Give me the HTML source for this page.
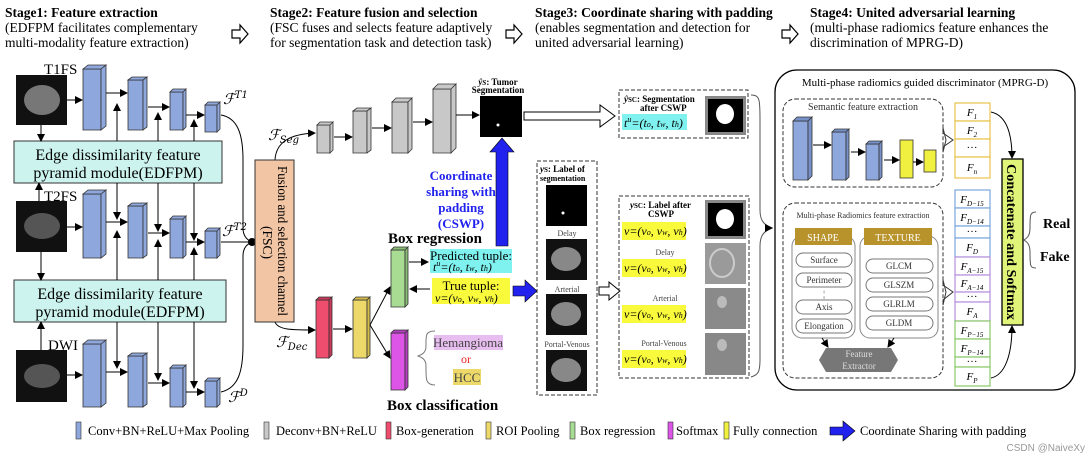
<!DOCTYPE html>
<html><head><meta charset="utf-8"><style>
html,body{margin:0;padding:0;background:#fff}
svg{display:block;font-family:"Liberation Serif",serif}
.b{font-weight:bold}
</style></head><body>
<svg width="1090" height="460" viewBox="0 0 1090 460" xmlns="http://www.w3.org/2000/svg">
<defs>
<marker id="ar" markerWidth="8" markerHeight="8" refX="7" refY="4" orient="auto"><path d="M0,0 L8,4 L0,8 z" fill="#000"/></marker>
<g id="hol"><path d="M0,-4 H8 V-9 L16,0 L8,9 V4 H0 z" fill="#fff" stroke="#000" stroke-width="1.2"/></g>
</defs>
<g font-size="13.5">
<text x="5" y="17" class="b">Stage1: Feature extraction</text>
<text x="5" y="32">(EDFPM  facilitates  complementary</text>
<text x="5" y="47">multi-modality feature extraction)</text>
<text x="270" y="17" class="b">Stage2: Feature fusion and selection</text>
<text x="270" y="32">(FSC fuses and selects feature adaptively</text>
<text x="270" y="47">for segmentation task and detection task)</text>
<text x="535" y="17" class="b">Stage3: Coordinate sharing with padding</text>
<text x="535" y="32">(enables  segmentation  and  detection  for</text>
<text x="535" y="47">united adversarial learning)</text>
<text x="810" y="17" class="b">Stage4: United adversarial learning</text>
<text x="810" y="32">(multi-phase radiomics feature enhances the</text>
<text x="810" y="47">discrimination of MPRG-D)</text>
</g>
<use href="#hol" x="232" y="34"/><use href="#hol" x="506" y="34"/><use href="#hol" x="782" y="34"/>

<rect x="16" y="75" width="51" height="50" fill="#111"/><ellipse cx="42" cy="100" rx="18" ry="15" fill="#777"/>
<rect x="16" y="201" width="51" height="51" fill="#111"/><ellipse cx="42" cy="226" rx="18" ry="13" fill="#555"/>
<rect x="16" y="350" width="51" height="52" fill="#111"/><ellipse cx="42" cy="376" rx="18" ry="12" fill="#555"/>
<text x="44" y="74" font-size="15">T1FS</text>
<text x="44" y="201" font-size="15">T2FS</text>
<text x="48" y="350" font-size="15">DWI</text>

<rect x="14" y="141" width="208" height="42" fill="#cdf3ee" stroke="#333"/>
<text x="118" y="160" font-size="16" text-anchor="middle">Edge dissimilarity feature</text>
<text x="118" y="178" font-size="16" text-anchor="middle">pyramid module(EDFPM)</text>
<rect x="14" y="280" width="212" height="42" fill="#cdf3ee" stroke="#333"/>
<text x="120" y="299" font-size="16" text-anchor="middle">Edge dissimilarity feature</text>
<text x="120" y="317" font-size="16" text-anchor="middle">pyramid module(EDFPM)</text>

<g stroke="#000" fill="none" stroke-width="1">
<line x1="41" y1="125" x2="41" y2="141" marker-end="url(#ar)"/>
<line x1="39" y1="201" x2="39" y2="183" marker-end="url(#ar)"/>
<line x1="41" y1="252" x2="41" y2="280" marker-end="url(#ar)"/>
<line x1="41" y1="350" x2="41" y2="322" marker-end="url(#ar)"/>
</g>

<g fill="#8ea7dc" stroke="#333" stroke-width="0.8">
<path d="M83,69 h18 v61 h-18z"/><path d="M83,69 l5,-4 h18 l-5,4z M101,69 l5,-4 v61 l-5,4z"/>
<path d="M128,80 h15 v50 h-15z"/><path d="M128,80 l4,-3 h15 l-4,3z M143,80 l4,-3 v50 l-4,3z"/>
<path d="M170,92 h13 v38 h-13z"/><path d="M170,92 l3,-3 h13 l-3,3z M183,92 l3,-3 v38 l-3,3z"/>
<path d="M205,105 h12 v27 h-12z"/><path d="M205,105 l3,-3 h12 l-3,3z M217,105 l3,-3 v27 l-3,3z"/>
<path d="M83,194 h18 v64 h-18z"/><path d="M83,194 l5,-4 h18 l-5,4z M101,194 l5,-4 v64 l-5,4z"/>
<path d="M128,206 h15 v52 h-15z"/><path d="M128,206 l4,-3 h15 l-4,3z M143,206 l4,-3 v52 l-4,3z"/>
<path d="M170,219 h13 v39 h-13z"/><path d="M170,219 l3,-3 h13 l-3,3z M183,219 l3,-3 v39 l-3,3z"/>
<path d="M205,231 h12 v27 h-12z"/><path d="M205,231 l3,-3 h12 l-3,3z M217,231 l3,-3 v27 l-3,3z"/>
<path d="M83,344 h18 v63 h-18z"/><path d="M83,344 l5,-4 h18 l-5,4z M101,344 l5,-4 v63 l-5,4z"/>
<path d="M128,356 h15 v51 h-15z"/><path d="M128,356 l4,-3 h15 l-4,3z M143,356 l4,-3 v51 l-4,3z"/>
<path d="M170,368 h13 v39 h-13z"/><path d="M170,368 l3,-3 h13 l-3,3z M183,368 l3,-3 v39 l-3,3z"/>
<path d="M205,381 h12 v26 h-12z"/><path d="M205,381 l3,-3 h12 l-3,3z M217,381 l3,-3 v26 l-3,3z"/>
</g>
<g stroke="#000" fill="none" stroke-width="1">
<line x1="67" y1="100" x2="82" y2="100" marker-end="url(#ar)"/>
<line x1="106" y1="93" x2="127" y2="93" marker-end="url(#ar)"/>
<line x1="148" y1="107" x2="169" y2="107" marker-end="url(#ar)"/>
<line x1="186" y1="115" x2="204" y2="115" marker-end="url(#ar)"/>
<line x1="67" y1="227" x2="82" y2="227" marker-end="url(#ar)"/>
<line x1="106" y1="222" x2="127" y2="222" marker-end="url(#ar)"/>
<line x1="148" y1="233" x2="169" y2="233" marker-end="url(#ar)"/>
<line x1="186" y1="242" x2="204" y2="242" marker-end="url(#ar)"/>
<line x1="67" y1="375" x2="82" y2="375" marker-end="url(#ar)"/>
<line x1="106" y1="372" x2="127" y2="372" marker-end="url(#ar)"/>
<line x1="148" y1="383" x2="169" y2="383" marker-end="url(#ar)"/>
<line x1="186" y1="392" x2="204" y2="392" marker-end="url(#ar)"/>
<line x1="117" y1="141" x2="117" y2="104" marker-end="url(#ar)"/>
<line x1="158" y1="141" x2="158" y2="113" marker-end="url(#ar)"/>
<line x1="194" y1="141" x2="194" y2="120" marker-end="url(#ar)"/>
<line x1="117" y1="183" x2="117" y2="219" marker-end="url(#ar)"/>
<line x1="158" y1="183" x2="158" y2="231" marker-end="url(#ar)"/>
<line x1="194" y1="183" x2="194" y2="240" marker-end="url(#ar)"/>
<line x1="117" y1="280" x2="117" y2="231" marker-end="url(#ar)"/>
<line x1="158" y1="280" x2="158" y2="240" marker-end="url(#ar)"/>
<line x1="194" y1="280" x2="194" y2="248" marker-end="url(#ar)"/>
<line x1="117" y1="322" x2="117" y2="368" marker-end="url(#ar)"/>
<line x1="158" y1="322" x2="158" y2="380" marker-end="url(#ar)"/>
<line x1="194" y1="322" x2="194" y2="388" marker-end="url(#ar)"/>
<path d="M221,115 C238,118 243,135 243,160 V228 C243,236 247,240 252,242"/>
<line x1="221" y1="242" x2="252" y2="242"/>
<path d="M221,392 C238,388 243,372 243,345 V256 C243,248 247,244 252,242"/>
<path d="M275,160 C276,142 290,134 315,133" marker-end="url(#ar)"/>
<path d="M275,322 C278,330 292,330 315,330" marker-end="url(#ar)"/>
</g>
<circle cx="252" cy="242" r="4" fill="#000"/>
<g font-style="italic" font-size="15" font-family="DejaVu Serif,serif">
<text x="223" y="104">ℱ<tspan font-size="10" dy="-6">T1</tspan></text>
<text x="222" y="236">ℱ<tspan font-size="10" dy="-6">T2</tspan></text>
<text x="228" y="402">ℱ<tspan font-size="10" dy="-6">D</tspan></text>
<text x="268" y="140">ℱ<tspan font-size="10" dy="3">Seg</tspan></text>
<text x="276" y="347">ℱ<tspan font-size="10" dy="3">Dec</tspan></text>
</g>

<rect x="255" y="160" width="39" height="162" fill="#f2c5a4" stroke="#333"/>
<text transform="translate(278,166) rotate(90)" font-size="13.5" textLength="150" lengthAdjust="spacingAndGlyphs">Fusion and selection channel</text>
<text transform="translate(263,226) rotate(90)" font-size="13.5">(FSC)</text>

<g fill="#c8c8c8" stroke="#333" stroke-width="0.8">
<path d="M317,125 h13 v28 h-13z"/><path d="M317,125 l3,-3 h13 l-3,3z M330,125 l3,-3 v28 l-3,3z"/>
<path d="M353,111 h14 v42 h-14z"/><path d="M353,111 l4,-3 h14 l-4,3z M367,111 l4,-3 v42 l-4,3z"/>
<path d="M392,102 h16 v51 h-16z"/><path d="M392,102 l4,-4 h16 l-4,4z M408,102 l4,-4 v51 l-4,4z"/>
<path d="M433,89 h18 v64 h-18z"/><path d="M433,89 l5,-5 h18 l-5,5z M451,89 l5,-5 v64 l-5,5z"/>
</g>
<g stroke="#000" fill="none">
<line x1="334" y1="137" x2="352" y2="137" marker-end="url(#ar)"/>
<line x1="372" y1="128" x2="391" y2="128" marker-end="url(#ar)"/>
<line x1="413" y1="122" x2="432" y2="122" marker-end="url(#ar)"/>
<line x1="456" y1="115" x2="479" y2="115" marker-end="url(#ar)"/>
</g>
<rect x="480" y="96" width="42" height="41" fill="#000"/><circle cx="498" cy="125" r="1.5" fill="#fff"/>
<text x="498" y="85" font-size="9" class="b" text-anchor="middle" font-style="italic">ŷ<tspan font-size="7">S</tspan><tspan font-style="normal">: Tumor</tspan></text>
<text x="498" y="93" font-size="9" class="b" text-anchor="middle">Segmentation</text>
<path d="M524,112 H600 V105 L615,116 L600,127 V120 H524 z" fill="#fff" stroke="#000"/>
<path d="M496,246 V152 H490 L502,138 L514,152 H508 V246 z" fill="#2222ee" stroke="#000" stroke-width="0.6"/>
<g fill="#2222ee" class="b" font-size="13" text-anchor="middle">
<text x="461" y="180">Coordinate</text><text x="461" y="196">sharing with</text>
<text x="461" y="212">padding</text><text x="461" y="228">(CSWP)</text>
</g>

<g stroke="#333" stroke-width="0.8">
<path d="M316,300 h13 v58 h-13z" fill="#ee4d6e"/><path d="M316,300 l3,-3 h13 l-3,3z M329,300 l3,-3 v58 l-3,3z" fill="#c73a58"/>
<path d="M353,300 h14 v58 h-14z" fill="#ecd96a"/><path d="M353,300 l3,-3 h14 l-3,3z M367,300 l3,-3 v58 l-3,3z" fill="#d1bc4c"/>
<path d="M391,250 h14 v57 h-14z" fill="#a8dc93"/><path d="M391,250 l3,-3 h14 l-3,3z M405,250 l3,-3 v57 l-3,3z" fill="#88bb73"/>
<path d="M391,333 h14 v57 h-14z" fill="#dc55e6"/><path d="M391,333 l3,-3 h14 l-3,3z M405,333 l3,-3 v57 l-3,3z" fill="#b63ec2"/>
</g>
<g stroke="#000" fill="none">
<line x1="333" y1="329" x2="352" y2="329" marker-end="url(#ar)"/>
<line x1="370" y1="325" x2="390" y2="287" marker-end="url(#ar)"/>
<line x1="370" y1="325" x2="390" y2="358" marker-end="url(#ar)"/>
<line x1="409" y1="262" x2="428" y2="262" marker-end="url(#ar)"/>
<line x1="430" y1="289" x2="410" y2="289" marker-end="url(#ar)"/>
<path d="M435,331 C425,331 426,336 426,346 C426,354 420,355 418,356 C420,357 426,358 426,366 C426,378 425,385 435,385" stroke="#777"/>
</g>
<text x="388" y="243" font-size="15" class="b">Box regression</text>
<text x="387" y="410" font-size="15" class="b">Box classification</text>
<rect x="430" y="249" width="82" height="24" fill="#7ff1ee"/>
<text x="471" y="260" font-size="13" text-anchor="middle">Predicted tuple:</text>
<text x="433" y="271" font-size="12" font-style="italic">t<tspan font-size="8" dy="-5">u</tspan><tspan dy="5">=(t</tspan><tspan font-size="8">o</tspan>, t<tspan font-size="8">w</tspan>, t<tspan font-size="8">h</tspan>)</text>
<rect x="432" y="278" width="78" height="26" fill="#fafa3c"/>
<text x="471" y="290" font-size="13" text-anchor="middle">True tuple:</text>
<text x="435" y="302" font-size="12" font-style="italic">v=(v<tspan font-size="8">o</tspan>, v<tspan font-size="8">w</tspan>, v<tspan font-size="8">h</tspan>)</text>
<path d="M513,286 H525 V280 L537,291 L525,302 V296 H513 z" fill="#2222ee" stroke="#000" stroke-width="0.6"/>
<rect x="434" y="335" width="69" height="15" fill="#e8bdf0"/>
<text x="468" y="347" font-size="13" text-anchor="middle" fill="#444">Hemangioma</text>
<text x="466" y="363" font-size="12" text-anchor="middle" fill="#e22">or</text>
<rect x="453" y="369" width="28" height="16" fill="#ecd96a"/>
<text x="467" y="382" font-size="13" text-anchor="middle" fill="#444">HCC</text>

<rect x="537" y="161" width="60" height="234" fill="none" stroke="#333" stroke-dasharray="4,2"/>
<text x="540" y="172" font-size="9" class="b"><tspan font-style="italic">y</tspan><tspan font-size="7">S</tspan>: Label of</text>
<text x="540" y="181" font-size="8" class="b">segmentation</text>
<rect x="546" y="185" width="41" height="41" fill="#000"/><circle cx="563" cy="213" r="1.5" fill="#fff"/>
<text x="567" y="236" font-size="8" text-anchor="middle" fill="#444">Delay</text>
<rect x="546" y="239" width="41" height="41" fill="#111"/><ellipse cx="566" cy="259" rx="15" ry="12" fill="#888"/>
<text x="567" y="292" font-size="8" text-anchor="middle" fill="#444">Arterial</text>
<rect x="546" y="294" width="41" height="41" fill="#111"/><ellipse cx="566" cy="314" rx="15" ry="12" fill="#888"/>
<text x="567" y="347" font-size="8" text-anchor="middle" fill="#444">Portal-Venous</text>
<rect x="546" y="350" width="41" height="41" fill="#111"/><ellipse cx="566" cy="370" rx="15" ry="12" fill="#888"/>
<path d="M599,287 H609 V282 L620,291 L609,300 V295 H599 z" fill="#fff" stroke="#000"/>

<rect x="619" y="90" width="129" height="48" fill="none" stroke="#333" stroke-dasharray="4,2"/>
<text x="624" y="102" font-size="9" class="b"><tspan font-style="italic">ŷ</tspan><tspan font-size="7">SC</tspan>: Segmentation</text>
<text x="640" y="111" font-size="9" class="b">after CSWP</text>
<rect x="622" y="114" width="65" height="16" fill="#7ff1ee"/>
<text x="624" y="127" font-size="12" font-style="italic">t<tspan font-size="8" dy="-5">u</tspan><tspan dy="5">=(t</tspan><tspan font-size="8">o</tspan>, t<tspan font-size="8">w</tspan>, t<tspan font-size="8">h</tspan>)</text>
<rect x="705" y="96" width="41" height="39" fill="#888"/><rect x="708" y="99" width="35" height="33" fill="#000"/><ellipse cx="725" cy="114" rx="9" ry="10" fill="#fff"/>

<rect x="619" y="196" width="130" height="182" fill="none" stroke="#333" stroke-dasharray="4,2"/>
<text x="630" y="208" font-size="9" class="b"><tspan font-style="italic">y</tspan><tspan font-size="7">SC</tspan>: Label  after</text>
<text x="648" y="217" font-size="9" class="b">CSWP</text>
<g font-size="12" font-style="italic">
<rect x="622" y="222" width="64" height="18" fill="#fafa3c"/><text x="624" y="235">v=(v<tspan font-size="8">o</tspan>, v<tspan font-size="8">w</tspan>, v<tspan font-size="8">h</tspan>)</text>
<rect x="622" y="259" width="64" height="18" fill="#fafa3c"/><text x="624" y="272">v=(v<tspan font-size="8">o</tspan>, v<tspan font-size="8">w</tspan>, v<tspan font-size="8">h</tspan>)</text>
<rect x="622" y="305" width="64" height="18" fill="#fafa3c"/><text x="624" y="318">v=(v<tspan font-size="8">o</tspan>, v<tspan font-size="8">w</tspan>, v<tspan font-size="8">h</tspan>)</text>
<rect x="622" y="350" width="64" height="18" fill="#fafa3c"/><text x="624" y="363">v=(v<tspan font-size="8">o</tspan>, v<tspan font-size="8">w</tspan>, v<tspan font-size="8">h</tspan>)</text>
</g>
<g font-size="8" fill="#444" text-anchor="middle">
<text x="665" y="255">Delay</text><text x="665" y="301">Arterial</text><text x="664" y="346">Portal-Venous</text>
</g>
<rect x="705" y="200" width="41" height="39" fill="#888"/><rect x="708" y="203" width="35" height="33" fill="#000"/><ellipse cx="725" cy="219" rx="9" ry="10" fill="#fff"/>
<rect x="705" y="243" width="41" height="41" fill="#9a9a9a"/><ellipse cx="722" cy="263" rx="12" ry="14" fill="none" stroke="#ccc" stroke-width="2"/>
<rect x="705" y="288" width="41" height="41" fill="#8a8a8a"/><ellipse cx="722" cy="302" rx="5" ry="6" fill="#bbb"/>
<rect x="705" y="333" width="41" height="42" fill="#888"/><ellipse cx="722" cy="345" rx="5" ry="6" fill="#bbb"/>
<path d="M751,95 C760,95 760,100 760,120 V210 C760,222 765,225 772,228 C765,231 760,234 760,246 V360 C760,372 758,375 751,377" fill="none" stroke="#555"/>

<rect x="775" y="70" width="300" height="320" rx="22" fill="none" stroke="#000" stroke-width="1.3"/>
<text x="925" y="86" font-size="11" text-anchor="middle">Multi-phase radiomics guided discriminator (MPRG-D)</text>
<rect x="783" y="99" width="160" height="88" rx="12" fill="none" stroke="#333" stroke-dasharray="4,2"/>
<text x="863" y="110" font-size="10" text-anchor="middle" fill="#333">Semantic feature extraction</text>
<g stroke="#333" stroke-width="0.8">
<path d="M793,121 h15 v59 h-15z" fill="#8ea7dc"/><path d="M793,121 l4,-4 h15 l-4,4z M808,121 l4,-4 v59 l-4,4z" fill="#7790c8"/>
<path d="M832,132 h14 v48 h-14z" fill="#8ea7dc"/><path d="M832,132 l3,-3 h14 l-3,3z M846,132 l3,-3 v48 l-3,3z" fill="#7790c8"/>
<path d="M866,144 h13 v36 h-13z" fill="#8ea7dc"/><path d="M866,144 l3,-3 h13 l-3,3z M879,144 l3,-3 v36 l-3,3z" fill="#7790c8"/>
<rect x="900" y="140" width="13" height="38" fill="#f0f040"/>
<rect x="924" y="150" width="12" height="22" fill="#f0f040"/>
</g>
<g stroke="#000" fill="none">
<line x1="813" y1="145" x2="831" y2="145" marker-end="url(#ar)"/>
<line x1="851" y1="152" x2="865" y2="152" marker-end="url(#ar)"/>
<line x1="884" y1="160" x2="899" y2="160" marker-end="url(#ar)"/>
<line x1="913" y1="162" x2="923" y2="162" marker-end="url(#ar)"/>
</g>
<path d="M943,128 V133 L953,140 L943,147 V152 L946,140 z" fill="#fff" stroke="#333"/>
<path d="M943,280 V285 L953,292 L943,300 V305 L946,292 z" fill="#fff" stroke="#333"/>
<path d="M766,228 l6,0" stroke="#000" marker-end="url(#ar)"/>

<rect x="783" y="203" width="160" height="175" rx="12" fill="none" stroke="#333" stroke-dasharray="4,2"/>
<text x="863" y="218" font-size="8" text-anchor="middle" fill="#333">Multi-phase Radiomics feature extraction</text>
<rect x="792" y="236" width="63" height="102" rx="10" fill="none" stroke="#888"/>
<rect x="860" y="236" width="78" height="102" rx="10" fill="none" stroke="#888"/>
<rect x="795" y="228" width="57" height="17" fill="#b8922a"/>
<rect x="864" y="228" width="68" height="17" fill="#b8922a"/>
<text x="823" y="241" font-size="10" text-anchor="middle" fill="#fff">SHAPE</text>
<text x="898" y="241" font-size="10" text-anchor="middle" fill="#fff">TEXTURE</text>
<g fill="#fff" stroke="#777">
<rect x="796" y="253" width="56" height="14" rx="7"/><rect x="796" y="273" width="56" height="14" rx="7"/>
<rect x="796" y="300" width="56" height="14" rx="7"/><rect x="796" y="319" width="56" height="14" rx="7"/>
<rect x="866" y="259" width="67" height="14" rx="7"/><rect x="866" y="278" width="67" height="14" rx="7"/>
<rect x="866" y="297" width="67" height="14" rx="7"/><rect x="866" y="316" width="67" height="14" rx="7"/>
</g>
<g font-size="9" text-anchor="middle" fill="#333">
<text x="824" y="263">Surface</text><text x="824" y="283">Perimeter</text><text x="824" y="297">¦</text>
<text x="824" y="310">Axis</text><text x="824" y="329">Elongation</text>
<text x="899" y="269">GLCM</text><text x="899" y="288">GLSZM</text><text x="899" y="307">GLRLM</text><text x="899" y="326">GLDM</text>
</g>
<path d="M826,348 H891 L898,360 L891,372 H826 L819,360 z" fill="#777"/>
<text x="859" y="357" font-size="9" text-anchor="middle" fill="#ddd">Feature</text>
<text x="859" y="369" font-size="9" text-anchor="middle" fill="#ddd">Extractor</text>
<g stroke="#000" fill="none"><line x1="822" y1="338" x2="828" y2="347" marker-end="url(#ar)"/><line x1="894" y1="338" x2="888" y2="347" marker-end="url(#ar)"/></g>

<g fill="#fff" stroke-width="1.2">
<g stroke="#e8c34a"><rect x="955" y="103" width="35" height="18"/><rect x="955" y="121" width="35" height="18"/><rect x="955" y="139" width="35" height="18"/><rect x="955" y="157" width="35" height="21"/></g>
<g stroke="#7aa6dc"><rect x="955" y="190" width="35" height="18"/><rect x="955" y="208" width="35" height="18"/><rect x="955" y="226" width="35" height="12"/><rect x="955" y="238" width="35" height="19"/></g>
<g stroke="#b690dc"><rect x="955" y="257" width="35" height="18"/><rect x="955" y="275" width="35" height="17"/><rect x="955" y="292" width="35" height="10"/><rect x="955" y="302" width="35" height="19"/></g>
<g stroke="#88c868"><rect x="955" y="321" width="35" height="18"/><rect x="955" y="339" width="35" height="18"/><rect x="955" y="357" width="35" height="10"/><rect x="955" y="367" width="35" height="19"/></g>
</g>
<g font-size="11" font-style="italic" text-anchor="middle">
<text x="972" y="116">F<tspan font-size="7" dy="3">1</tspan></text><text x="972" y="134">F<tspan font-size="7" dy="3">2</tspan></text>
<text x="972" y="151" font-style="normal">···</text><text x="972" y="171">F<tspan font-size="7" dy="3">n</tspan></text>
<text x="972" y="203">F<tspan font-size="7" dy="3">D−15</tspan></text><text x="972" y="221">F<tspan font-size="7" dy="3">D−14</tspan></text>
<text x="972" y="235" font-style="normal">···</text><text x="972" y="251">F<tspan font-size="7" dy="3">D</tspan></text>
<text x="972" y="270">F<tspan font-size="7" dy="3">A−15</tspan></text><text x="972" y="287">F<tspan font-size="7" dy="3">A−14</tspan></text>
<text x="972" y="300" font-style="normal">···</text><text x="972" y="315">F<tspan font-size="7" dy="3">A</tspan></text>
<text x="972" y="334">F<tspan font-size="7" dy="3">P−15</tspan></text><text x="972" y="352">F<tspan font-size="7" dy="3">P−14</tspan></text>
<text x="972" y="365" font-style="normal">···</text><text x="972" y="380">F<tspan font-size="7" dy="3">P</tspan></text>
</g>
<rect x="1002" y="159" width="21" height="166" fill="#e0f47a" stroke="#000" stroke-width="1.3"/>
<text transform="translate(1007,164) rotate(90)" font-size="14" class="b" textLength="156" lengthAdjust="spacingAndGlyphs">Concatenate and Softmax</text>
<g stroke="#000" fill="none">
<path d="M991,112 C1005,115 1012,130 1012,158" marker-end="url(#ar)"/>
<path d="M991,378 C1005,375 1012,355 1012,326" marker-end="url(#ar)"/>
<path d="M1036,212 C1030,212 1030,215 1030,228 C1030,236 1027,238 1024,240 C1027,242 1030,244 1030,252 C1030,266 1030,268 1036,268" stroke="#555"/>
</g>
<text x="1043" y="228" font-size="14" class="b">Real</text>
<text x="1040" y="261" font-size="14" class="b">Fake</text>

<g stroke="#333" stroke-width="0.6">
<rect x="76" y="422" width="5" height="17" fill="#8ea7dc"/>
<rect x="264" y="422" width="5" height="17" fill="#c8c8c8"/>
<rect x="386" y="422" width="5" height="17" fill="#ee4d6e"/>
<rect x="486" y="422" width="5" height="17" fill="#ecd96a"/>
<rect x="570" y="422" width="5" height="17" fill="#a8dc93"/>
<rect x="668" y="422" width="5" height="17" fill="#dc55e6"/>
<rect x="724" y="422" width="5" height="17" fill="#f0f040"/>
</g>
<path d="M830,427 H843 V421 L855,431 L843,441 V435 H830 z" fill="#2222ee" stroke="#000" stroke-width="0.6"/>
<g font-size="12.5">
<text x="88" y="435">Conv+BN+ReLU+Max Pooling</text>
<text x="276" y="435">Deconv+BN+ReLU</text>
<text x="396" y="435">Box-generation</text>
<text x="496" y="435">ROI Pooling</text>
<text x="580" y="435">Box regression</text>
<text x="676" y="435">Softmax</text>
<text x="733" y="435">Fully connection</text>
<text x="860" y="435">Coordinate Sharing with padding</text>
</g>
<text x="1085" y="451" font-size="10" text-anchor="end" fill="#999" font-family="Liberation Sans,sans-serif">CSDN @NaiveXy</text>
</svg>
</body></html>
